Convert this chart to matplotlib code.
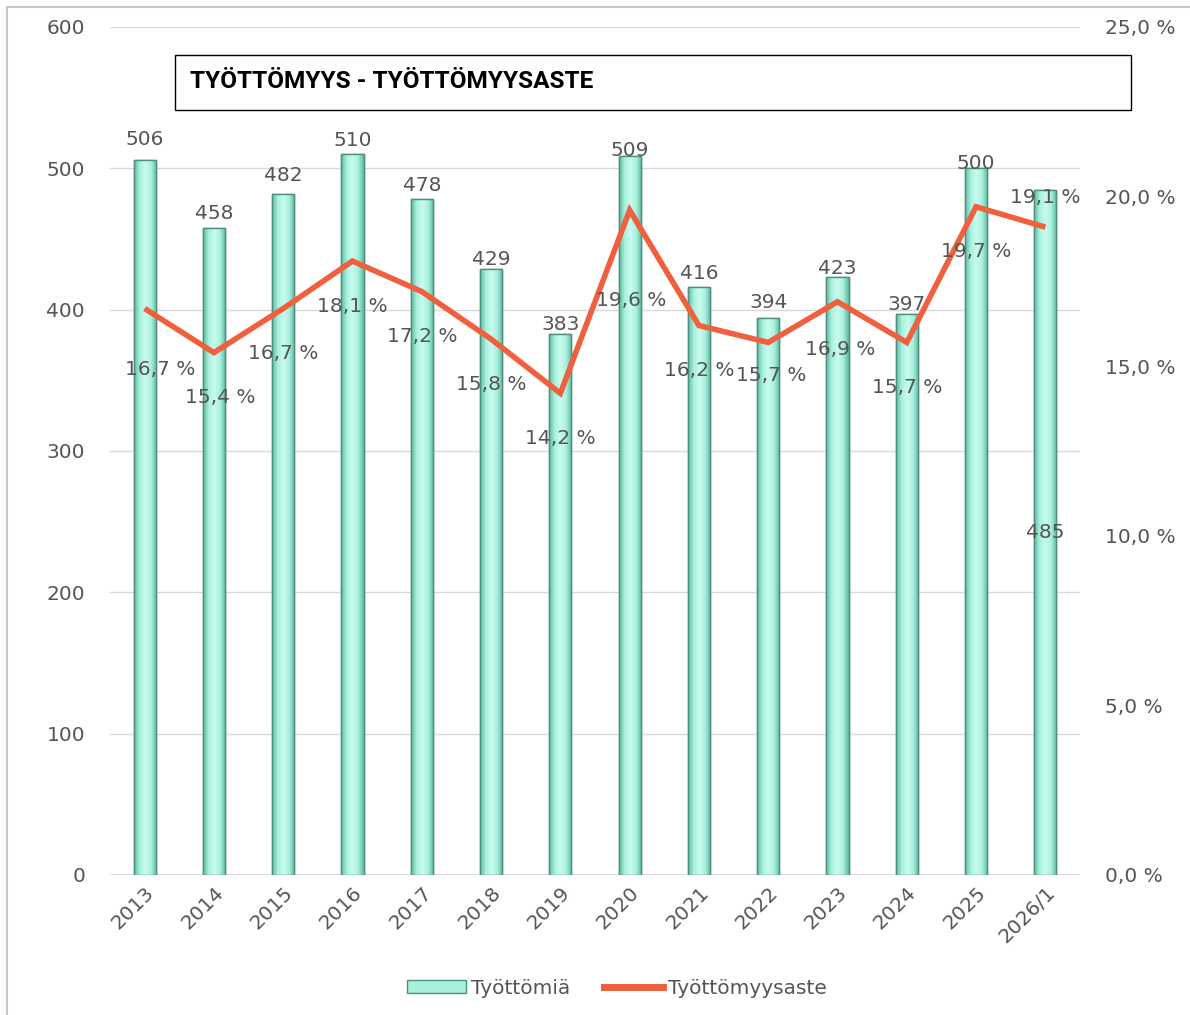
import matplotlib
matplotlib.use("Agg")
import matplotlib.pyplot as plt
import numpy as np
from matplotlib.patches import Rectangle, Patch
from matplotlib.lines import Line2D
from matplotlib.colors import LinearSegmentedColormap

# ---- data ----
years = ["2013", "2014", "2015", "2016", "2017", "2018", "2019", "2020",
         "2021", "2022", "2023", "2024", "2025", "2026/1"]
tyottomia = [506, 458, 482, 510, 478, 429, 383, 509, 416, 394, 423, 397, 500, 485]
aste = [16.7, 15.4, 16.7, 18.1, 17.2, 15.8, 14.2, 19.6, 16.2, 15.7, 16.9, 15.7, 19.7, 19.1]
left_ticks = [0, 100, 200, 300, 400, 500, 600]
right_ticks = [0, 5, 10, 15, 20, 25]
title = "TYÖTTÖMYYS - TYÖTTÖMYYSASTE"
legend_labels = ["Työttömiä", "Työttömyysaste"]

# ---- style ----
W, H, DPI = 1190, 1015, 100
gray = "#555555"
bar_face = "#a6f0dc"
bar_edge = "#4f8f7f"
line_col = "#f0603f"
fs = 14.5
PT = 72 / DPI

plt.rcParams['font.family'] = ['DejaVu Sans']

fig = plt.figure(figsize=(W / DPI, H / DPI), dpi=DPI)
fig.patch.set_facecolor("white")

L, R, B, T = 110 / W, 1080 / W, 1 - 875 / H, 1 - 27 / H
ax = fig.add_axes([L, B, R - L, T - B])
x = np.arange(len(years))
bw = 0.32

ax.set_xlim(-0.5, len(years) - 0.5)
ax.set_ylim(0, 600)
ax.set_yticks(left_ticks)
ax.set_yticklabels([str(t) for t in left_ticks])
ax.grid(axis="y", color="#d9d9d9", lw=1)
ax.set_axisbelow(True)
for s in ax.spines.values():
    s.set_visible(False)
ax.axhline(0, color="#d9d9d9", lw=1.2, zorder=1)
ax.tick_params(axis="both", length=0, labelsize=fs, colors=gray)
ax.tick_params(axis="y", pad=25 * PT)
ax.tick_params(axis="x", pad=8 * PT)
ax.set_xticks(x)
ax.set_xticklabels(years, rotation=45, ha="right", rotation_mode="anchor")

bars = ax.bar(x, tyottomia, width=bw, color=bar_face, edgecolor=bar_edge, lw=1.0, zorder=2)
# gradient shading on bars
cmap = LinearSegmentedColormap.from_list("g", ["#5fb9a2", "#a9f2de", "#c8fbee", "#a9f2de", "#5fb9a2"])
grad = np.linspace(0, 1, 64).reshape(1, -1)
for b in bars:
    x0, y0 = b.get_x(), b.get_y()
    im = ax.imshow(grad, extent=[x0, x0 + b.get_width(), y0, y0 + b.get_height()],
                   aspect="auto", cmap=cmap, zorder=2.1, interpolation="bicubic")
    im.set_clip_path(b)
    ob = Rectangle((x0, y0), b.get_width(), b.get_height(), fill=False,
                   edgecolor=bar_edge, lw=1.0, zorder=2.2)
    ax.add_patch(ob)
ax.set_xlim(-0.5, len(years) - 0.5)
ax.set_ylim(0, 600)

# bar labels: vertical offset of label centre above bar top, in pixels (styling only)
bar_lab_off = {"2013": 20, "2015": 18, "2018": 9, "2019": 9, "2020": 5, "2022": 16,
               "2023": 9, "2024": 9, "2025": 5}
for xi, v, yr in zip(x, tyottomia, years):
    if yr == "2026/1":
        ax.text(xi, v / 2, str(v), ha="center", va="center", fontsize=fs, color=gray, zorder=5)
        continue
    off = bar_lab_off.get(yr, 14)
    ax.annotate(str(v), (xi, v), xytext=(0, off * PT), textcoords="offset points",
                ha="center", va="center", fontsize=fs, color=gray, zorder=5)

ax2 = ax.twinx()
ax2.set_ylim(0, 25)
ax2.set_yticks(right_ticks)
ax2.set_yticklabels([f"{t:.1f}".replace(".", ",") + " %" for t in right_ticks])
ax2.tick_params(axis="y", length=0, labelsize=fs, colors=gray, pad=25 * PT)
for s in ax2.spines.values():
    s.set_visible(False)
ax2.plot(x, aste, color=line_col, lw=4, solid_joinstyle="miter", solid_capstyle="butt", zorder=3)

line_lab_off = {"2013": (16, -61), "2014": (6, -45), "2020": (2, -90), "2022": (3, -33),
                "2023": (3, -48), "2026/1": (0, 30)}
for xi, v, yr in zip(x, aste, years):
    dx, dy = line_lab_off.get(yr, (0, -45))
    ax2.annotate(f"{v:.1f}".replace(".", ",") + " %", (xi, v),
                 xytext=(dx * PT, dy * PT), textcoords="offset points",
                 ha="center", va="center", fontsize=fs, color=gray, zorder=6)

# title box
fig.patches.append(Rectangle((175 / W, 1 - 110 / H), (1131 - 175) / W, 55 / H,
                             transform=fig.transFigure, fill=False, edgecolor="black", lw=1))
fig.text(190 / W, 1 - 81 / H, title, fontsize=17.6, fontweight="bold", family="Roboto",
         ha="left", va="center", color="black")

# outer border (left and top)
fig.add_artist(Line2D([7 / W, 7 / W], [0, 1 - 7 / H], transform=fig.transFigure, color="#c8c8c8", lw=1.5))
fig.add_artist(Line2D([7 / W, 1], [1 - 7 / H, 1 - 7 / H], transform=fig.transFigure, color="#c8c8c8", lw=1.5))

handles = [Patch(facecolor=bar_face, edgecolor=bar_edge, lw=1),
           Line2D([0], [0], color=line_col, lw=5)]
fig.legend(handles, legend_labels, loc="center", bbox_to_anchor=(617 / W, 1 - 988 / H),
           ncol=2, frameon=False, fontsize=fs, labelcolor=gray, handlelength=2.9,
           handletextpad=0.25, columnspacing=1.7, handleheight=0.6)

fig.savefig("out.png", dpi=DPI)
